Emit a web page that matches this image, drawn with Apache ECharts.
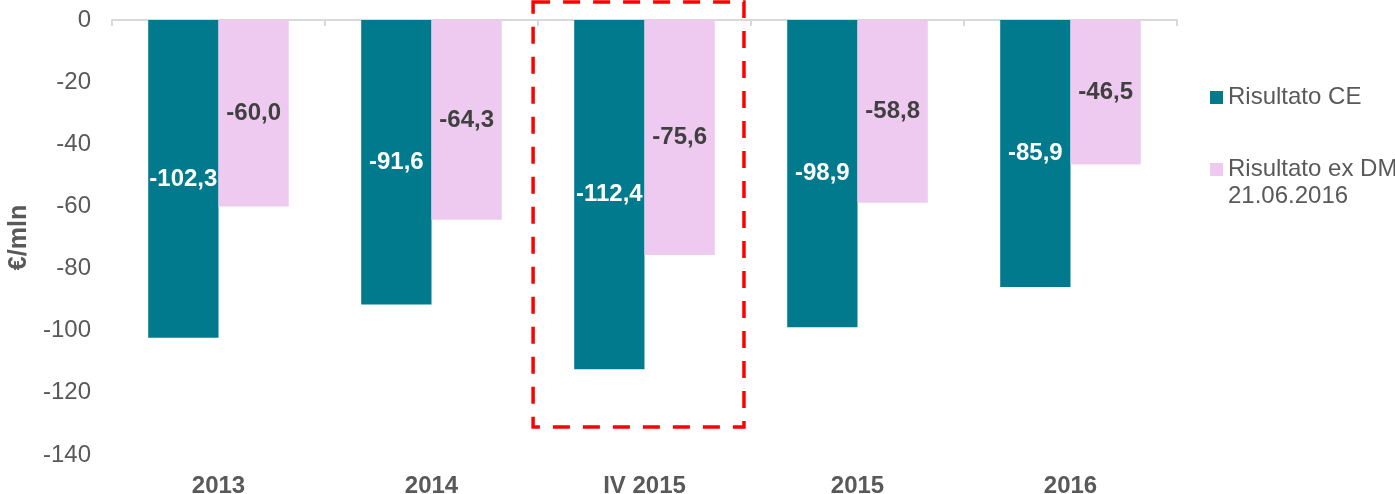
<!DOCTYPE html>
<html>
<head>
<meta charset="utf-8">
<script src="https://cdn.jsdelivr.net/npm/echarts@6/dist/echarts.min.js"></script>
<style>
html,body{margin:0;padding:0;background:#fff;}
#chart{width:1395px;height:494px;}
</style>
</head>
<body>
<div id="chart"></div>
<script>
var categories = ['2013', '2014', 'IV 2015', '2015', '2016'];
var risultatoCE = [-102.3, -91.6, -112.4, -98.9, -85.9];
var risultatoExDM = [-60.0, -64.3, -75.6, -58.8, -46.5];
var seriesNames = ['Risultato CE', 'Risultato ex DM'];
var legendSecondLine = '21.06.2016';
var yTicks = { min: -140, max: 0, interval: 20 };
var highlightCategory = 'IV 2015';

var FONT = '"Liberation Sans", Arial, sans-serif';
var FS = 24;
var chart = echarts.init(document.getElementById('chart'), null, { renderer: 'canvas' });

function fmt(v) { return v.toFixed(1).replace('.', ','); }

var option = {
  animation: false,
  backgroundColor: '#ffffff',
  textStyle: { fontFamily: FONT },
  grid: { left: 112, right: 218, top: 20, bottom: 39, containLabel: false, outerBoundsMode: 'none' },
  legend: [
    {
      data: [seriesNames[0]], orient: 'vertical', left: 1205, top: 79.5, padding: 5,
      itemWidth: 13, itemHeight: 13, icon: 'rect',
      textStyle: { fontFamily: FONT, fontSize: FS, color: '#595959', lineHeight: 26 }
    },
    {
      data: [seriesNames[1]], orient: 'vertical', left: 1205, top: 151.5, padding: 5,
      itemWidth: 13, itemHeight: 13, icon: 'rect',
      textStyle: { fontFamily: FONT, fontSize: FS, color: '#595959', lineHeight: 26 }
    }
  ],
  xAxis: [
    {
      type: 'category', data: categories, position: 'top',
      axisLine: { show: true, onZero: false, lineStyle: { color: '#d9d9d9', width: 2 } },
      axisTick: { show: true, inside: true, length: 6, lineStyle: { color: '#d9d9d9', width: 2 } },
      axisLabel: { show: false },
      splitLine: { show: false }
    },
    {
      type: 'category', data: categories, position: 'bottom',
      axisLine: { show: false, onZero: false },
      axisTick: { show: false },
      axisLabel: { show: true, fontFamily: FONT, fontSize: FS, fontWeight: 'bold', color: '#595959', margin: 19 },
      splitLine: { show: false }
    }
  ],
  yAxis: {
    type: 'value', min: yTicks.min, max: yTicks.max, interval: yTicks.interval,
    name: '€/mln', nameLocation: 'middle', nameGap: 74, nameRotate: 90,
    nameTextStyle: { fontFamily: FONT, fontSize: 25, fontWeight: 'bold', color: '#595959' },
    axisLine: { show: false }, axisTick: { show: false }, splitLine: { show: false },
    axisLabel: { fontFamily: FONT, fontSize: FS, color: '#595959', margin: 21 }
  },
  series: [
    {
      name: seriesNames[0], type: 'bar', data: risultatoCE, xAxisIndex: 0,
      barGap: '0%', barCategoryGap: '34%',
      itemStyle: { color: '#017A8E' },
      label: {
        show: true, position: 'inside', color: '#ffffff', fontFamily: FONT,
        fontSize: FS, fontWeight: 'bold', formatter: function (p) { return fmt(p.value); }
      }
    },
    {
      name: seriesNames[1], type: 'bar', data: risultatoExDM, xAxisIndex: 0,
      barGap: '0%', barCategoryGap: '34%',
      itemStyle: { color: '#EFCAF0' },
      label: {
        show: true, position: 'inside', color: '#404040', fontFamily: FONT,
        fontSize: FS, fontWeight: 'bold', formatter: function (p) { return fmt(p.value); }
      }
    }
  ]
};
chart.setOption(option);

// highlight box & legend second line, positioned via the chart's scales
var idx = categories.indexOf(highlightCategory);
var cx = chart.convertToPixel({ xAxisIndex: 0 }, highlightCategory);
var cxNext = chart.convertToPixel({ xAxisIndex: 0 }, categories[idx + 1]);
var band = cxNext - cx;
var yTop = chart.convertToPixel({ yAxisIndex: 0 }, 5.8);
var yBot = chart.convertToPixel({ yAxisIndex: 0 }, -131);
var x0 = cx - 0.523 * band, x1 = cx + 0.467 * band;

chart.setOption({
  graphic: [
    {
      type: 'rect', z: 100,
      shape: { x: x0, y: yTop, width: x1 - x0, height: yBot - yTop },
      style: { fill: null, stroke: '#FF0000', lineWidth: 3.5, lineDash: [17, 13] }
    },
    {
      type: 'text', left: 1228, top: 184, z: 100,
      style: { text: legendSecondLine, fontFamily: FONT, fontSize: FS, fill: '#595959' }
    }
  ]
});
</script>
</body>
</html>
